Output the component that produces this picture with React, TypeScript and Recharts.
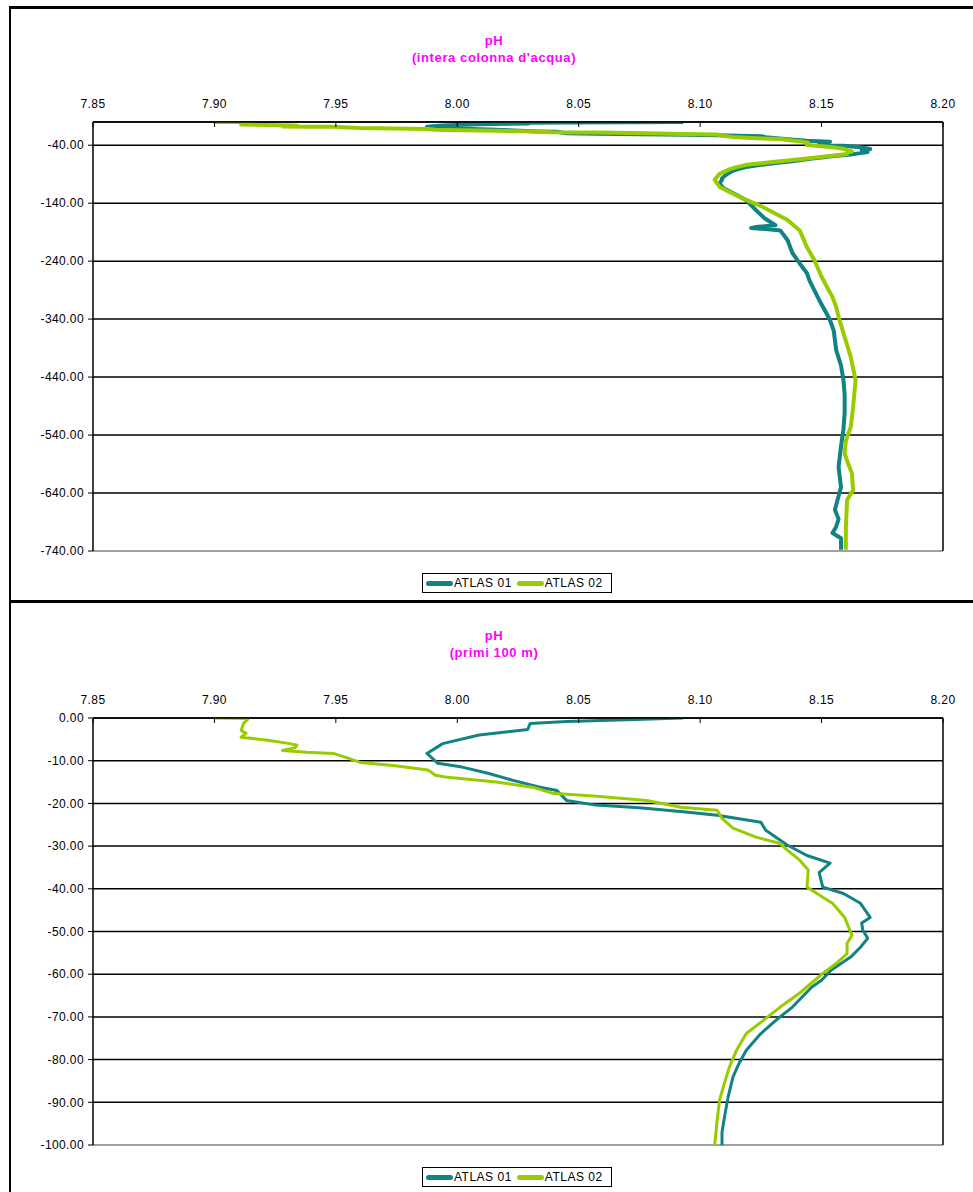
import React from "react";
import {
  LineChart,
  Line,
  XAxis,
  YAxis,
  CartesianGrid,
  ReferenceLine,
} from "recharts";

// axes
const phTicks = [7.85, 7.9, 7.95, 8.0, 8.05, 8.1, 8.15, 8.2];
const fullDepthTicks = [-740, -640, -540, -440, -340, -240, -140, -40];
const shallowDepthTicks = [0, -10, -20, -30, -40, -50, -60, -70, -80, -90, -100];

const seriesNames = ["ATLAS 01", "ATLAS 02"];
const seriesColors = ["#118383", "#99cc00"];

// ATLAS 01 - primi 100 m
const atlas01DepthShallow = [
  0, -0.4, -0.8, -1.3, -2.7, -4.0, -6.0, -8.3, -10.6, -11.5, -13.0, -14.6, -16.2,
  -17.0, -19.3, -20.4, -21.0, -22.0, -22.8, -24.4, -26.3, -29.8, -32.2, -34.0,
  -36.2, -39.6, -41.1, -43.4, -46.7, -48.0, -49.7, -51.6, -53.7, -56.0, -59.0,
  -61.4, -63.0, -67.7, -70.4, -73.9, -77.8, -80.9, -84.1, -88.8, -93.5, -97.0, -100,
];
const atlas01PhShallow = [
  8.093, 8.07, 8.045, 8.03, 8.029, 8.009, 7.994, 7.9875, 7.992, 8.002, 8.013, 8.023,
  8.034, 8.041, 8.045, 8.057, 8.075, 8.094, 8.107, 8.125, 8.127, 8.136, 8.144,
  8.1535, 8.149, 8.1505, 8.159, 8.166, 8.17, 8.1665, 8.167, 8.169, 8.166, 8.162,
  8.154, 8.15, 8.146, 8.138, 8.132, 8.125, 8.119, 8.116, 8.1135, 8.1115, 8.11,
  8.109, 8.109,
];

// ATLAS 02 - primi 100 m
const atlas02DepthShallow = [
  0, -0.1, -1.3, -2.9, -3.6, -4.5, -5.2, -6.0, -6.4, -7.0, -7.6, -8.0, -8.3, -9.4,
  -10.4, -11.1, -12.2, -13.4, -13.9, -15.0, -16.2, -17.6, -18.3, -19.3, -20.9,
  -21.6, -23.5, -25.8, -27.9, -29.4, -31.0, -33.3, -35.6, -39.6, -42.0, -43.4,
  -46.7, -48.1, -50.9, -52.8, -55.2, -57.5, -59.8, -62.0, -64.4, -67.7, -70.8,
  -73.9, -77.8, -81.8, -85.5, -89.5, -94.2, -100,
];
const atlas02PhShallow = [
  7.9, 7.914, 7.912, 7.911, 7.913, 7.911, 7.922, 7.931, 7.934, 7.933, 7.928, 7.938,
  7.949, 7.955, 7.96, 7.9735, 7.988, 7.991, 7.996, 8.016, 8.031, 8.039, 8.0575,
  8.078, 8.092, 8.107, 8.109, 8.1135, 8.123, 8.133, 8.136, 8.141, 8.1445, 8.144,
  8.1505, 8.1545, 8.1595, 8.1605, 8.1625, 8.1605, 8.1605, 8.156, 8.1505, 8.146,
  8.141, 8.133, 8.126, 8.119, 8.115, 8.112, 8.11, 8.108, 8.107, 8.106,
];

// ATLAS 01 - sotto i 100 m
const atlas01DepthDeep = [
  -106, -114, -126, -135, -152, -166, -178, -181, -183, -185, -187, -204, -226,
  -244, -261, -273, -290, -307, -330, -342, -360, -393, -420, -445, -470, -502,
  -530, -560, -595, -630, -645, -669, -685, -698, -709, -718, -738,
];
const atlas01PhDeep = [
  8.108, 8.1095, 8.115, 8.119, 8.123, 8.1265, 8.131, 8.123, 8.121, 8.128, 8.133,
  8.136, 8.138, 8.141, 8.144, 8.145, 8.147, 8.149, 8.152, 8.1535, 8.155, 8.156,
  8.158, 8.159, 8.1595, 8.1595, 8.159, 8.158, 8.157, 8.158, 8.157, 8.1555, 8.157,
  8.156, 8.1545, 8.158, 8.158,
];

// ATLAS 02 - sotto i 100 m
const atlas02DepthDeep = [
  -112, -129, -147, -169, -187, -216, -238, -267, -302, -319, -336, -364, -405,
  -445, -491, -526, -550, -572, -590, -606, -635, -652, -700, -738,
];
const atlas02PhDeep = [
  8.108, 8.116, 8.126, 8.136, 8.141, 8.144, 8.147, 8.15, 8.1545, 8.156, 8.157,
  8.159, 8.162, 8.164, 8.163, 8.162, 8.16, 8.1595, 8.161, 8.1625, 8.163, 8.1605,
  8.16, 8.16,
];

type Point = { depth: number; ph: number };

const toPoints = (depths: number[], phs: number[]): Point[] =>
  depths.map((d, i) => ({ depth: d, ph: phs[i] }));

const shallowSeries = [
  toPoints(atlas01DepthShallow, atlas01PhShallow),
  toPoints(atlas02DepthShallow, atlas02PhShallow),
];
const fullSeries = [
  toPoints(atlas01DepthShallow.concat(atlas01DepthDeep), atlas01PhShallow.concat(atlas01PhDeep)),
  toPoints(atlas02DepthShallow.concat(atlas02DepthDeep), atlas02PhShallow.concat(atlas02PhDeep)),
];

const FONT = "'Liberation Sans', Arial, sans-serif";
const tickStyle = { fill: "#000", fontSize: 12, fontFamily: FONT, letterSpacing: 0.4 };

function ProfileChart({
  top,
  series,
  depthTicks,
  depthMin,
  depthMax,
  strokeWidth,
  bottomMargin,
}: {
  top: number;
  series: Point[][];
  depthTicks: number[];
  depthMin: number;
  depthMax: number;
  strokeWidth: number;
  bottomMargin: number;
}) {
  return (
    <div style={{ position: "absolute", left: 0, top }}>
      <LineChart
        width={973}
        height={480}
        margin={{ top: 12, right: 30, bottom: bottomMargin, left: 13 }}
      >
        <CartesianGrid vertical={false} stroke="#000" strokeWidth={1.5} />
        <XAxis
          dataKey="ph"
          type="number"
          orientation="top"
          domain={[7.85, 8.2]}
          ticks={phTicks}
          allowDataOverflow
          height={30}
          tickFormatter={(v: number) => v.toFixed(2)}
          tick={tickStyle}
          tickSize={-5}
          tickMargin={19}
          axisLine={{ stroke: "#000", strokeWidth: 1.5 }}
          tickLine={{ stroke: "#000" }}
        />
        <YAxis
          type="number"
          domain={[depthMin, depthMax]}
          ticks={depthTicks}
          allowDataOverflow
          width={80}
          tickFormatter={(v: number) => v.toFixed(2)}
          tick={tickStyle}
          tickSize={5}
          tickMargin={4}
          axisLine={{ stroke: "#000", strokeWidth: 1.5 }}
          tickLine={{ stroke: "#000" }}
        />
        <ReferenceLine y={depthMin} stroke="#a0a0a0" strokeWidth={2} />
        <ReferenceLine x={8.2} stroke="#000" strokeWidth={1.5} />
        {series.map((data, i) => (
          <Line
            key={seriesNames[i]}
            data={data}
            dataKey="depth"
            name={seriesNames[i]}
            type="linear"
            stroke={seriesColors[i]}
            strokeWidth={strokeWidth}
            strokeLinejoin="round"
            dot={false}
            activeDot={false}
            isAnimationActive={false}
          />
        ))}
      </LineChart>
    </div>
  );
}

function Title({ top, subtitle }: { top: number; subtitle: string }) {
  return (
    <div
      style={{
        position: "absolute",
        left: 344,
        width: 300,
        top,
        textAlign: "center",
        color: "#ff00ff",
        fontFamily: FONT,
        fontWeight: "bold",
        fontSize: 13,
        lineHeight: "17px",
        letterSpacing: 0.6,
      }}
    >
      <div>pH</div>
      <div>{subtitle}</div>
    </div>
  );
}

function LegendBox({ top }: { top: number }) {
  return (
    <div
      style={{
        position: "absolute",
        left: 422,
        top,
        width: 188,
        height: 18,
        border: "1.5px solid #000",
        background: "#fff",
        display: "flex",
        alignItems: "center",
        fontFamily: FONT,
        fontSize: 12,
        letterSpacing: 0.5,
        color: "#000",
      }}
    >
      {seriesNames.map((name, i) => (
        <div key={name} style={{ display: "flex", alignItems: "center", marginLeft: i === 0 ? 3 : 5 }}>
          <span
            style={{
              display: "inline-block",
              width: 27,
              height: 5,
              borderRadius: 3,
              background: seriesColors[i],
            }}
          />
          <span style={{ marginLeft: 1 }}>{name}</span>
        </div>
      ))}
    </div>
  );
}

export default function App() {
  return (
    <div
      style={{
        position: "absolute",
        left: 0,
        top: 0,
        width: 973,
        height: 1192,
        background: "#fff",
        overflow: "hidden",
      }}
    >
      {/* frames */}
      <div style={{ position: "absolute", left: 9, top: 6, width: 964, height: 3, background: "#000" }} />
      <div style={{ position: "absolute", left: 9, top: 6, width: 2, height: 1186, background: "#000" }} />
      <div style={{ position: "absolute", left: 9, top: 600, width: 964, height: 3, background: "#000" }} />

      <Title top={32} subtitle="(intera colonna d'acqua)" />
      <ProfileChart
        top={80}
        series={fullSeries}
        depthTicks={fullDepthTicks}
        depthMin={-740}
        depthMax={0}
        strokeWidth={4}
        bottomMargin={9}
      />
      <LegendBox top={573} />

      <Title top={627} subtitle="(primi 100 m)" />
      <ProfileChart
        top={676}
        series={shallowSeries}
        depthTicks={shallowDepthTicks}
        depthMin={-100}
        depthMax={0}
        strokeWidth={3}
        bottomMargin={11}
      />
      <LegendBox top={1167} />
    </div>
  );
}
